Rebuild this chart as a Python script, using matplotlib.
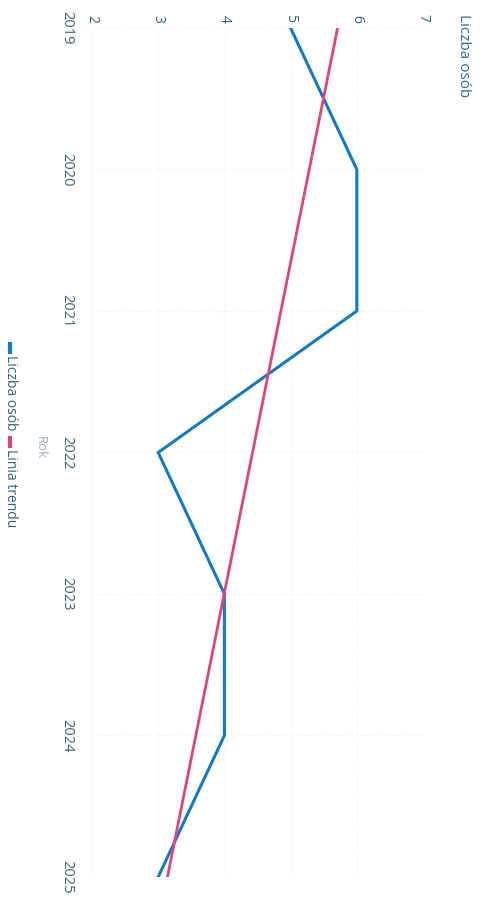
import numpy as np
import matplotlib
matplotlib.use('Agg')
import matplotlib.pyplot as plt
from matplotlib.lines import Line2D

plt.rcParams['font.family'] = ['Open Sans', 'DejaVu Sans']

# dane
lata = [2019, 2020, 2021, 2022, 2023, 2024, 2025]
liczba_osob = [5, 6, 6, 3, 4, 4, 3]
trend_lata = [2019, 2025]
trend_wart = [5.71, 3.14]
wartosci_osi = [2, 3, 4, 5, 6, 7]

niebieski = '#1479c0'
rozowy = '#e0457a'
tekst = '#3a5f80'

W, H = 481, 897
fig = plt.figure(figsize=(W / 100, H / 100), dpi=100)
ax = fig.add_axes([92 / W, 1 - 877 / H, (423 - 92) / W, (877 - 28) / H])

# wykres obrocony o 90 stopni: rok w pionie, liczba osob w poziomie
ax.plot(liczba_osob, lata, color=niebieski, lw=2.2, solid_joinstyle='miter')
ax.plot(trend_wart, trend_lata, color=rozowy, lw=2.0)

ax.set_xlim(2, 7)
ax.set_ylim(2025, 2019)
ax.set_xticks(wartosci_osi)
ax.set_yticks(lata)
ax.xaxis.tick_top()
ax.set_xticklabels([str(v) for v in wartosci_osi], rotation=-90, fontsize=10, color=tekst)
ax.set_yticklabels([str(r) for r in lata], rotation=-90, fontsize=10.5, color=tekst, va='center')
ax.tick_params(axis='both', length=0)
ax.tick_params(axis='x', pad=4)
ax.tick_params(axis='y', pad=13)
for s in ax.spines.values():
    s.set_visible(False)
ax.grid(True, ls=':', color='#eceef1', lw=0.8)

# tytuly osi
fig.text(464 / W, 1 - 14 / H, 'Liczba osób', rotation=-90, fontsize=11, color='#2b6da3',
         ha='center', va='top')
fig.text(40 / W, 1 - 448 / H, 'Rok', rotation=-90, fontsize=9.5, color='#9fb0c4',
         ha='center', va='center')

# legenda (obrocona)
fig.add_artist(Line2D([10 / W, 10 / W], [1 - 344 / H, 1 - 352 / H], color=niebieski, lw=3,
                      transform=fig.transFigure))
fig.text(10 / W, 1 - 355 / H, 'Liczba osób', rotation=-90, fontsize=10, color=tekst,
         ha='center', va='top')
fig.add_artist(Line2D([10 / W, 10 / W], [1 - 438 / H, 1 - 446 / H], color=rozowy, lw=3,
                      transform=fig.transFigure))
fig.text(10 / W, 1 - 449 / H, 'Linia trendu', rotation=-90, fontsize=10, color=tekst,
         ha='center', va='top')

fig.savefig('out.png', dpi=100)
